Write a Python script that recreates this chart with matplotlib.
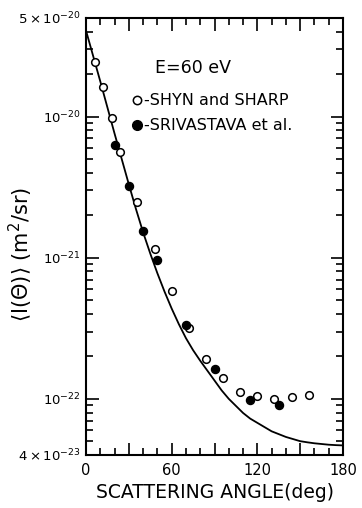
import matplotlib
matplotlib.use("Agg")
import matplotlib.pyplot as plt
import numpy as np
from matplotlib.ticker import FixedLocator, NullFormatter, FixedFormatter

# Shyn and Sharp (open circles)
shyn_angle = [6, 12, 18, 24, 36, 48, 60, 72, 84, 96, 108, 120, 132, 144, 156]
shyn_dcs = [2.42e-20, 1.62e-20, 9.7e-21, 5.66e-21, 2.47e-21, 1.15e-21, 5.85e-22,
            3.17e-22, 1.91e-22, 1.40e-22, 1.125e-22, 1.05e-22, 1.0e-22, 1.03e-22, 1.07e-22]

# Srivastava et al. (filled circles)
sriv_angle = [20, 30, 40, 50, 70, 90, 115, 135]
sriv_dcs = [6.33e-21, 3.24e-21, 1.55e-21, 9.6e-22, 3.34e-22, 1.62e-22, 9.8e-23, 9.0e-23]

# Theory curve (log10 of cross section, read every 5 deg)
theory_angle = [0, 5, 10, 15, 20, 25, 30, 35, 40, 45, 50, 55, 60, 65, 70, 75, 80, 85, 90,
                95, 100, 105, 110, 115, 120, 125, 130, 135, 140, 145, 150, 155, 160, 165,
                170, 175, 180]
theory_log = [-19.39, -19.57, -19.75, -19.935, -20.12, -20.30, -20.48, -20.655, -20.82,
              -20.97, -21.11, -21.24, -21.36, -21.47, -21.57, -21.655, -21.73, -21.80,
              -21.87, -21.94, -22.00, -22.05, -22.10, -22.14, -22.17, -22.20, -22.23,
              -22.25, -22.27, -22.285, -22.30, -22.308, -22.315, -22.32, -22.325,
              -22.328, -22.33]
theory_dcs = [10.0 ** v for v in theory_log]

ytick_vals = [4e-23, 1e-22, 1e-21, 1e-20, 5e-20]
ytick_labels = [r'$4\times10^{-23}$', r'$10^{-22}$', r'$10^{-21}$', r'$10^{-20}$', r'$5\times10^{-20}$']
xtick_vals = [0, 30, 60, 90, 120, 150, 180]
xtick_labels = ['0', '', '60', '', '120', '', '180']

plt.rcParams['font.family'] = ['DejaVu Sans']
plt.rcParams['mathtext.fontset'] = 'dejavusans'

fig = plt.figure(figsize=(3.62, 5.08), dpi=100)
ax = fig.add_axes([86/362, 1-455/508, (343-86)/362, (455-18)/508])

ax.plot(theory_angle, theory_dcs, color='black', lw=1.3)
ax.plot(shyn_angle, shyn_dcs, 'o', mfc='white', mec='black', mew=1.1, ms=5.5, ls='none')
ax.plot(sriv_angle, sriv_dcs, 'o', mfc='black', mec='black', ms=5.8, ls='none')

ax.set_yscale('log')
ax.set_xlim(0, 180)
ax.set_ylim(4e-23, 5e-20)

ax.xaxis.set_major_locator(FixedLocator(xtick_vals))
ax.xaxis.set_minor_locator(FixedLocator([10, 20, 40, 50, 70, 80, 100, 110, 130, 140, 160, 170]))
ax.xaxis.set_major_formatter(FixedFormatter(xtick_labels))

ax.yaxis.set_major_locator(FixedLocator(ytick_vals))
ax.yaxis.set_major_formatter(FixedFormatter(ytick_labels))
minor_y = []
for d in [1e-23, 1e-22, 1e-21, 1e-20]:
    for m in range(2, 10):
        v = m * d
        if 4e-23 < v < 5e-20 and v not in ytick_vals:
            minor_y.append(v)
ax.yaxis.set_minor_locator(FixedLocator(minor_y))
ax.yaxis.set_minor_formatter(NullFormatter())

ax.tick_params(which='both', direction='in', top=True, right=True, width=1.2)
ax.tick_params(which='major', length=9)
ax.tick_params(which='minor', length=5)
ax.tick_params(axis='x', labelsize=10.5, pad=6)
ax.tick_params(axis='y', labelsize=9.5, pad=4)
for s in ax.spines.values():
    s.set_linewidth(1.5)

ax.set_xlabel('SCATTERING ANGLE(deg)', fontsize=13.5, labelpad=3)
ax.set_ylabel(r'$\langle$I($\Theta$)$\rangle$ (m$^2$/sr)', fontsize=15, labelpad=2)
ax.yaxis.set_label_coords(-0.2, 0.46)

ax.text(0.268, 0.886, 'E=60 eV', transform=ax.transAxes, fontsize=12.5, ha='left', va='center')
ax.plot([0.2], [0.812], 'o', mfc='white', mec='black', mew=1.1, ms=6, transform=ax.transAxes, clip_on=False)
ax.text(0.225, 0.812, '-SHYN and SHARP', transform=ax.transAxes, fontsize=11.5, ha='left', va='center')
ax.plot([0.2], [0.755], 'o', mfc='black', mec='black', ms=7, transform=ax.transAxes, clip_on=False)
ax.text(0.225, 0.755, '-SRIVASTAVA et al.', transform=ax.transAxes, fontsize=11.5, ha='left', va='center')

fig.savefig('out.png', dpi=100)
